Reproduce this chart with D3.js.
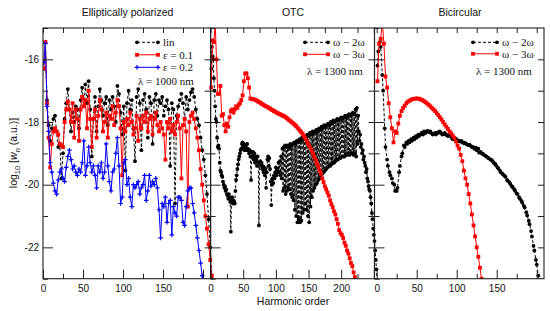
<!DOCTYPE html>
<html><head><meta charset="utf-8">
<script src="https://cdn.jsdelivr.net/npm/d3@7"></script>
<style>body{margin:0;background:#fff}svg{display:block}</style>
</head><body><svg id="c" width="550" height="311"></svg>
<script>
// ---------------- DATA ----------------
const panelTitles = ["Elliptically polarized", "OTC", "Bicircular"];
const yMajorTicks = [-22, -20, -18, -16];
const yMinorTicks = [-23, -21, -19, -17, -15];
const xLabels1 = [0, 50, 100, 150];
const xLabels2 = [0, 50, 100, 150, 200];
const xLabels3 = [0, 50, 100, 150];

// Elliptically polarized (odd harmonics)
const ellipHarm = d3.range(1, 212, 2);
const linVals = [
-16.3,-15.45,-17.3,-18.1,-18.6,-18.2,-17.9,-17.8,-18.3,-18.8,
-18.7,-19.8,-19.0,-17.9,-17.4,-16.95,-17.6,-18.3,-17.7,-18.0,
-17.5,-17.6,-18.2,-17.3,-16.9,-17.5,-16.8,-17.4,-16.7,-17.6,
-19.1,-17.9,-17.2,-18.3,-17.5,-16.95,-17.3,-17.8,-17.4,-17.2,
-18.1,-17.3,-17.6,-17.2,-17.5,-18.0,-16.85,-17.1,-17.7,-18.4,
-17.5,-19.55,-17.4,-17.0,-17.6,-17.3,-18.2,-19.25,-17.2,-16.95,
-17.4,-18.9,-17.3,-17.1,-17.6,-18.5,-17.2,-17.4,-18.7,-17.3,
-17.1,-17.8,-17.3,-17.4,-17.2,-17.8,-17.5,-17.3,-17.6,-19.4,
-17.4,-17.6,-20.6,-17.8,-17.5,-17.3,-17.1,-17.4,-17.9,-17.2,
-17.6,-17.3,-17.05,-16.95,-17.2,-17.6,-17.9,-18.1,-18.5,-18.9,
-19.2,-19.7,-20.3,-21.1,-22.0,-23.0];
const eps01Vals = [
-16.3,-15.45,-17.4,-18.5,-19.45,-18.7,-18.3,-18.2,-18.3,-18.4,
-18.7,-18.75,-18.8,-18.0,-17.6,-17.35,-17.6,-18.0,-17.4,-18.5,
-17.6,-17.9,-18.6,-17.6,-17.2,-17.5,-17.3,-18.2,-17.0,-17.9,
-18.8,-17.9,-17.6,-18.5,-17.8,-17.3,-17.6,-18.3,-18.0,-17.7,
-18.5,-17.8,-17.9,-17.5,-18.1,-17.7,-17.3,-17.5,-18.2,-19.7,
-18.0,-18.3,-17.9,-18.1,-17.7,-18.0,-18.4,-18.2,-17.8,-18.6,
-17.9,-18.2,-17.8,-18.0,-17.7,-18.3,-17.9,-17.8,-18.4,-17.9,
-17.7,-18.1,-18.3,-18.0,-18.2,-18.4,-19.2,-18.0,-18.2,-17.9,
-18.3,-18.1,-18.4,-18.0,-17.8,-18.2,-19.8,-18.1,-17.9,-18.3,
-20.7,-18.0,-17.8,-17.7,-17.9,-18.2,-18.5,-18.9,-19.5,-20.0,
-20.5,-21.0,-21.4,-21.9,-22.4,-22.9];
const eps02Harm = d3.range(1, 202, 2);
const eps02Vals = [
-16.1,-15.5,-17.5,-18.3,-19.3,-19.6,-19.95,-20.2,-20.3,-19.85,
-19.6,-19.5,-19.8,-19.9,-19.45,-19.1,-18.9,-19.2,-19.5,-19.4,
-19.6,-19.7,-19.5,-19.6,-19.3,-18.6,-19.7,-19.4,-18.8,-19.3,
-19.6,-19.4,-19.7,-20.1,-19.4,-19.6,-19.3,-19.8,-19.6,-18.7,
-19.4,-19.9,-20.2,-19.6,-19.5,-19.0,-18.5,-19.4,-20.6,-20.4,
-19.3,-19.2,-20.0,-19.8,-20.4,-20.7,-20.0,-20.1,-20.0,-19.9,
-20.3,-20.1,-20.0,-19.7,-20.5,-20.2,-19.7,-20.05,-19.9,-20.0,
-19.8,-20.1,-20.8,-21.7,-20.6,-20.7,-20.4,-21.2,-20.6,-20.5,
-21.6,-20.7,-20.9,-21.0,-20.4,-20.4,-20.5,-21.2,-21.3,-20.7,
-20.2,-20.1,-20.1,-20.6,-20.9,-21.3,-21.7,-22.1,-22.5,-22.9,
-23.3];

// OTC
const otc2Harm = d3.range(1, 256);
const otc2Vals = [
-16.3,-15.6,-15.9,-16.0,-16.6,-17.0,-17.5,-17.9,-18.0,-18.5,
-18.8,-18.75,-18.85,-19.3,-19.55,-19.6,-19.7,-19.75,-19.9,-20.0,
-20.1,-20.05,-20.2,-20.15,-20.3,-20.35,-20.45,-20.3,-20.4,-20.55,
-21.5,-20.5,-20.4,-20.6,-20.5,-20.55,-20.6,-20.2,-19.85,-19.7,
-19.5,-19.35,-19.2,-19.1,-19.0,-18.9,-18.85,-18.7,-18.65,-18.8,
-18.7,-18.9,-18.75,-18.8,-18.9,-18.7,-18.85,-18.9,-19.0,-18.9,
-19.1,-19.85,-18.95,-19.1,-18.95,-19.2,-19.0,-19.3,-19.1,-19.2,
-19.4,-19.1,-19.3,-21.3,-19.3,-19.25,-19.4,-19.3,-19.5,-19.4,
-19.6,-19.45,-19.7,-19.5,-20.1,-19.6,-19.2,-19.1,-19.4,-19.15,
-19.5,-19.9,-20.65,-20.0,-19.8,-19.95,-19.7,-19.8,-19.6,-19.45,
-19.7,-19.5,-19.6,-19.3,-19.6,-19.25,-19.7,-19.1,-19.8,-18.85,
-20.2,-18.8,-20.1,-18.75,-20.3,-18.8,-20.2,-18.75,-20.1,-18.8,
-20.15,-18.7,-20.3,-18.75,-20.4,-18.7,-20.5,-18.65,-20.8,-18.7,
-21.0,-18.6,-21.2,-18.65,-21.1,-18.55,-21.2,-18.6,-21.15,-18.5,
-20.9,-18.55,-20.8,-18.45,-20.6,-18.5,-20.8,-18.4,-21.0,-18.45,
-21.2,-18.35,-20.7,-18.4,-20.4,-18.3,-20.2,-18.35,-20.1,-18.3,
-20.0,-18.25,-19.95,-18.3,-19.85,-18.2,-19.8,-18.25,-19.7,-18.15,
-19.65,-18.2,-19.6,-18.1,-19.55,-18.15,-19.5,-18.1,-19.45,-18.05,
-19.4,-18.1,-19.4,-18.0,-19.35,-18.05,-19.3,-17.95,-19.3,-18.0,
-19.25,-17.95,-19.2,-17.9,-19.2,-17.95,-19.15,-17.9,-19.15,-17.85,
-19.1,-17.9,-19.1,-17.85,-19.1,-17.8,-19.05,-17.85,-19.05,-17.8,
-19.0,-17.75,-19.05,-17.8,-19.0,-17.75,-19.0,-17.7,-19.05,-17.75,
-19.0,-17.6,-19.1,-17.55,-18.7,-17.8,-18.3,-18.6,-18.4,-18.8,
-18.7,-19.0,-18.9,-19.2,-19.1,-19.3,-19.4,-19.6,-19.5,-19.8,
-19.9,-20.05,-20.15,-20.2,-20.4,-20.6,-20.9,-21.1,-21.4,-21.6,
-21.8,-22.1,-22.4,-22.7,-23.1];
const otc3Harm = d3.range(1, 224, 2);
const otc3Vals = [
-16.9,-15.4,-15.45,-14.8,-16.0,-17.1,-17.1,-16.85,-17.8,-17.75,
-18.1,-18.3,-18.05,-18.15,-17.85,-17.65,-17.6,-17.7,-17.6,-17.5,
-17.55,-17.45,-17.4,-17.3,-17.15,-16.7,-16.45,-16.45,-16.6,-16.9,
-17.25,-17.27,-17.27,-17.28,-17.3,-17.32,-17.35,-17.37,-17.4,-17.43,
-17.45,-17.48,-17.5,-17.52,-17.55,-17.57,-17.6,-17.62,-17.65,-17.67,
-17.7,-17.72,-17.74,-17.76,-17.78,-17.8,-17.82,-17.85,-17.88,-17.92,
-17.95,-17.98,-18.02,-18.05,-18.09,-18.13,-18.18,-18.23,-18.28,-18.33,
-18.38,-18.45,-18.52,-18.6,-18.68,-18.76,-18.84,-18.92,-19.02,-19.12,
-19.22,-19.32,-19.42,-19.55,-19.65,-19.8,-19.92,-20.05,-20.15,-20.25,
-20.35,-20.5,-20.62,-20.72,-20.85,-20.95,-21.1,-21.25,-21.45,-21.55,
-21.6,-21.7,-21.85,-21.95,-22.1,-22.2,-22.35,-22.5,-22.6,-22.8,
-22.95,-23.1];

// Bicircular
const bi2Harm = d3.range(1, 204).filter(h => h % 3 !== 0);
const bi2Vals = [
-16.2,-15.75,-15.45,-15.6,-16.5,-17.0,-18.2,-18.8,-19.2,-19.4,
-19.6,-19.7,-19.8,-19.95,-20.0,-20.2,-20.2,-20.1,-19.6,-19.4,
-19.1,-19.0,-18.75,-18.8,-18.65,-18.7,-18.6,-18.65,-18.55,-18.6,
-18.5,-18.55,-18.45,-18.5,-18.4,-18.45,-18.4,-18.35,-18.4,-18.3,
-18.35,-18.3,-18.28,-18.32,-18.3,-18.35,-18.4,-18.38,-18.35,-18.4,
-18.35,-18.32,-18.3,-18.35,-18.4,-18.38,-18.35,-18.4,-18.42,-18.45,
-18.42,-18.45,-18.5,-18.55,-18.52,-18.55,-18.55,-18.6,-18.6,-18.62,
-18.6,-18.65,-18.68,-18.66,-18.7,-18.72,-18.74,-18.72,-18.77,-18.8,
-18.8,-18.85,-18.82,-18.9,-18.85,-18.98,-18.95,-19.0,-19.02,-19.05,
-19.08,-19.1,-19.14,-19.15,-19.2,-19.2,-19.25,-19.3,-19.33,-19.38,
-19.45,-19.48,-19.55,-19.6,-19.65,-19.68,-19.72,-19.75,-19.85,-19.88,
-19.93,-19.98,-20.05,-20.08,-20.15,-20.2,-20.28,-20.3,-20.4,-20.45,
-20.52,-20.58,-20.68,-20.73,-20.88,-20.98,-21.15,-21.26,-21.48,-21.65,
-21.95,-22.1,-22.4,-22.55,-22.9,-23.1];
const bi3Harm = d3.range(1, 134, 2);
const bi3Vals = [
-16.7,-15.5,-15.35,-14.8,-15.5,-16.55,-16.9,-17.4,-17.85,-18.2,
-18.65,-18.3,-18.35,-18.05,-17.8,-17.65,-17.55,-17.48,-17.4,-17.35,
-17.32,-17.29,-17.27,-17.26,-17.25,-17.25,-17.26,-17.28,-17.3,-17.33,
-17.37,-17.41,-17.45,-17.5,-17.55,-17.6,-17.65,-17.72,-17.78,-17.85,
-17.92,-18.0,-18.08,-18.15,-18.22,-18.3,-18.36,-18.43,-18.5,-18.62,
-18.75,-18.85,-19.05,-19.25,-19.55,-19.8,-20.0,-20.3,-20.6,-20.95,
-21.3,-21.65,-22.0,-22.3,-22.65,-23.0,-23.3];

// ---------------- DRAW ----------------
const svg = d3.select("#c");
const yTop = 28, yBottom = 278.7;
const y = d3.scaleLinear().domain([-23, -15]).range([yBottom, yTop]);
const panels = [
  {x: d3.scaleLinear().domain([0, 209.5]).range([43, 210.6]), labels: xLabels1, title: panelTitles[0], tx: 127.5},
  {x: d3.scaleLinear().domain([0, 251]).range([210.6, 374.5]), labels: xLabels2, title: panelTitles[1], tx: 293},
  {x: d3.scaleLinear().domain([-2.75, 209.1]).range([374.5, 544]), labels: xLabels3, title: panelTitles[2], tx: 460}
];
const sans = "Liberation Sans, Arial, sans-serif";
const serif = "Liberation Serif, Times New Roman, serif";
const RED = "#ff0000", BLUE = "#0000ff", BLACK = "#000000";

svg.append("defs").append("clipPath").attr("id", "plotclip")
  .append("rect").attr("x", 43).attr("y", yTop).attr("width", 501).attr("height", yBottom - yTop);

const dataLayer = svg.append("g").attr("clip-path", "url(#plotclip)");

function marker(g, type, cx, cy, color) {
  if (type === "circle") {
    g.append("circle").attr("cx", cx).attr("cy", cy).attr("r", 1.9).attr("fill", color);
  } else if (type === "square") {
    g.append("rect").attr("x", cx - 1.9).attr("y", cy - 1.9).attr("width", 3.8).attr("height", 3.8).attr("fill", color);
  } else {
    g.append("path").attr("d", `M${cx-2.3},${cy}H${cx+2.3}M${cx},${cy-2.3}V${cy+2.3}`)
      .attr("stroke", color).attr("stroke-width", 1.2).attr("fill", "none");
  }
}

function drawSeries(xs, harm, vals, color, dash, mtype) {
  const n = Math.min(harm.length, vals.length);
  const data = d3.range(n).map(i => ({h: harm[i], v: vals[i]}));
  const g = dataLayer.append("g");
  const line = d3.line().x(d => xs(d.h)).y(d => y(d.v));
  g.append("path").datum(data).attr("d", line).attr("fill", "none")
    .attr("stroke", color).attr("stroke-width", 1).attr("stroke-dasharray", dash || null);
  data.forEach(d => marker(g, mtype, xs(d.h), y(d.v), color));
}

drawSeries(panels[0].x, ellipHarm, linVals, BLACK, "3,2", "circle");
drawSeries(panels[0].x, ellipHarm, eps01Vals, RED, null, "square");
drawSeries(panels[0].x, eps02Harm, eps02Vals, BLUE, null, "plus");
drawSeries(panels[1].x, otc2Harm, otc2Vals, BLACK, "3,2", "circle");
drawSeries(panels[1].x, otc3Harm, otc3Vals, RED, null, "square");
drawSeries(panels[2].x, bi2Harm, bi2Vals, BLACK, "3,2", "circle");
drawSeries(panels[2].x, bi3Harm, bi3Vals, RED, null, "square");

// axes and frames
const axisColor = "#222";
panels.forEach((p, i) => {
  const [x0, x1] = p.x.range();
  const dom = p.x.domain();
  const majors = d3.range(0, dom[1] + 0.01, 50);
  const minors = d3.range(25, dom[1] + 0.01, 50);
  const allX = d3.range(0, dom[1] + 0.01, 25);
  svg.append("g").attr("transform", `translate(0,${yBottom})`)
    .call(d3.axisBottom(p.x).tickValues(majors).tickSize(-9).tickPadding(6)
      .tickFormat(d => p.labels.includes(d) ? String(d) : ""));
  svg.append("g").attr("transform", `translate(0,${yBottom})`)
    .call(d3.axisBottom(p.x).tickValues(minors).tickSize(-5).tickFormat(""));
  svg.append("g").attr("transform", `translate(0,${yTop})`)
    .call(d3.axisTop(p.x).tickValues(allX).tickSize(-5).tickFormat(""));
  svg.append("g").attr("transform", `translate(${x0},0)`)
    .call(d3.axisLeft(y).tickValues(yMajorTicks).tickSize(-10).tickPadding(4)
      .tickFormat(d => i === 0 ? String(d) : ""));
  svg.append("g").attr("transform", `translate(${x0},0)`)
    .call(d3.axisLeft(y).tickValues(yMinorTicks).tickSize(-5).tickFormat(""));
  svg.append("g").attr("transform", `translate(${x1},0)`)
    .call(d3.axisRight(y).tickValues(d3.range(-22, -15.5, 1)).tickSize(-6).tickFormat(""));
  svg.append("rect").attr("x", x0).attr("y", yTop).attr("width", x1 - x0).attr("height", yBottom - yTop)
    .attr("fill", "none").attr("stroke", axisColor).attr("stroke-width", 1.1);
  svg.append("text").attr("x", p.tx).attr("y", 15.5).attr("text-anchor", "middle")
    .attr("font-family", sans).attr("font-size", 10.5).attr("fill", "#111").text(p.title);
});
svg.selectAll(".domain").remove();
svg.selectAll(".tick line").attr("stroke", axisColor).attr("stroke-width", 1);
svg.selectAll(".tick text").attr("font-family", sans).attr("font-size", 10).attr("fill", "#111");

// axis titles
svg.append("text").attr("x", 293).attr("y", 305).attr("text-anchor", "middle")
  .attr("font-family", sans).attr("font-size", 10.5).attr("fill", "#111").text("Harmonic order");
const yl = svg.append("text").attr("transform", "translate(17,153) rotate(-90)").attr("text-anchor", "middle")
  .attr("font-family", sans).attr("font-size", 10.5).attr("fill", "#111");
yl.append("tspan").text("log");
yl.append("tspan").attr("dy", 2.5).attr("font-size", 7.5).text("10");
yl.append("tspan").attr("dy", -2.5).text(" [");
yl.append("tspan").attr("font-style", "italic").text("w");
yl.append("tspan").attr("dy", 2.5).attr("font-size", 7.5).attr("font-style", "italic").text("n");
yl.append("tspan").attr("dy", -2.5).text(" (a.u.)]");

// legends
const legends = [
  {x0: 137, x1: 158, tx: 163, rows: [
    {label: "lin", color: BLACK, dash: "3,2", m: "circle", y: 42.3},
    {label: "ε = 0.1", color: RED, dash: null, m: "square", y: 54.8},
    {label: "ε = 0.2", color: BLUE, dash: null, m: "plus", y: 67.3}],
   lambda: "λ = 1000 nm", lx: 138, ly: 81},
  {x0: 305, x1: 328, tx: 333, rows: [
    {label: "ω − 2ω", color: BLACK, dash: "3,2", m: "circle", y: 42.3},
    {label: "ω − 3ω", color: RED, dash: null, m: "square", y: 54.3}],
   lambda: "λ = 1300 nm", lx: 307, ly: 71},
  {x0: 473, x1: 497, tx: 502, rows: [
    {label: "ω − 2ω", color: BLACK, dash: "3,2", m: "circle", y: 42.3},
    {label: "ω − 3ω", color: RED, dash: null, m: "square", y: 53.8}],
   lambda: "λ = 1300 nm", lx: 476, ly: 71}
];
legends.forEach(L => {
  const g = svg.append("g");
  L.rows.forEach(r => {
    g.append("line").attr("x1", L.x0).attr("x2", L.x1).attr("y1", r.y).attr("y2", r.y)
      .attr("stroke", r.color).attr("stroke-width", 1).attr("stroke-dasharray", r.dash);
    marker(g, r.m, L.x0, r.y, r.color);
    marker(g, r.m, L.x1, r.y, r.color);
    g.append("text").attr("x", L.tx).attr("y", r.y + 3.8).attr("font-family", serif)
      .attr("font-size", 11).attr("fill", "#111").text(r.label);
  });
  g.append("text").attr("x", L.lx).attr("y", L.ly + 3.8).attr("font-family", serif)
    .attr("font-size", 11).attr("fill", "#111").text(L.lambda);
});
</script>
</body></html>
